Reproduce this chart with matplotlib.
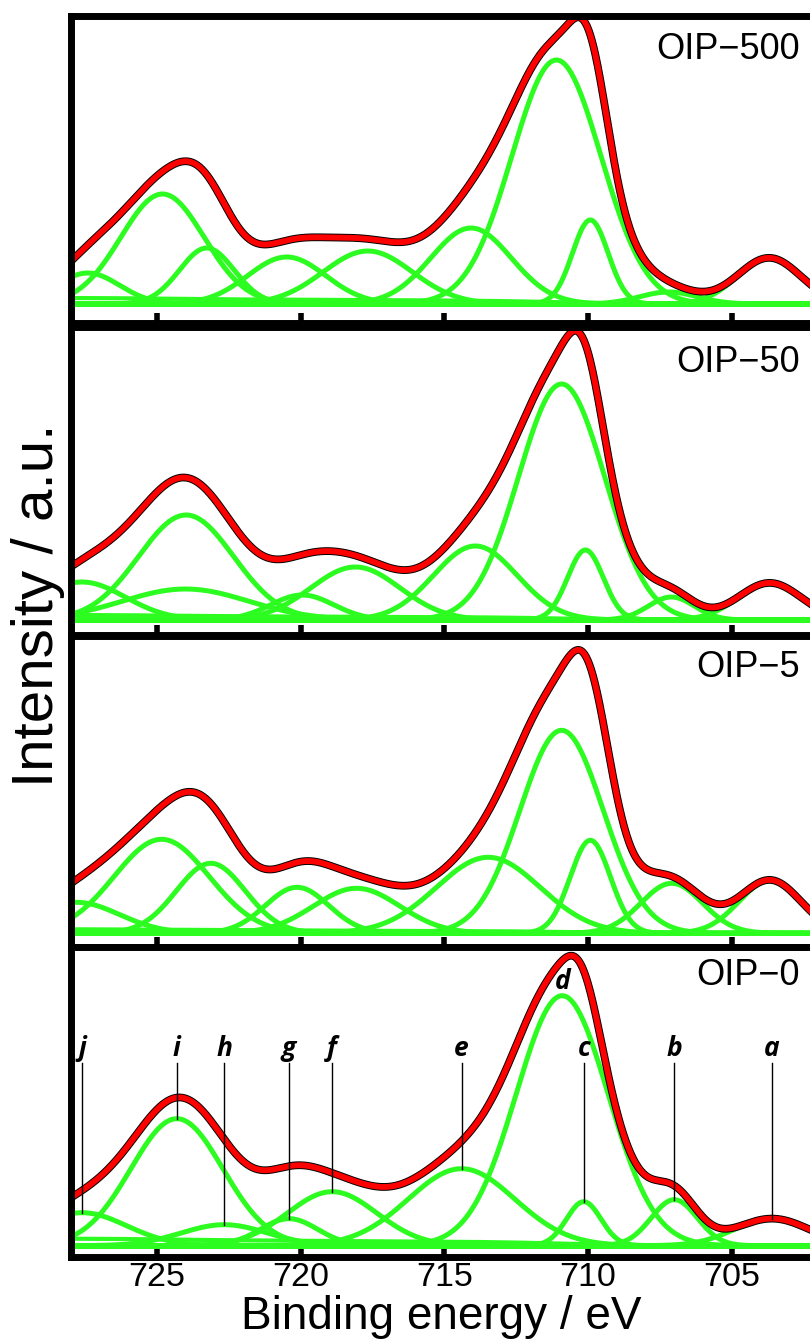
import numpy as np
import matplotlib
matplotlib.use("Agg")
import matplotlib.pyplot as plt
from matplotlib.transforms import Affine2D

# ---------------- data ----------------
panel_names = ["OIP\u2212500", "OIP\u221250", "OIP\u22125", "OIP\u22120"]
peak_letters = ["j", "i", "h", "g", "f", "e", "d", "c", "b", "a"]
tick_energies = [725, 720, 715, 710, 705]

# component centres (eV), heights (a.u.), gaussian widths sigma (eV), order j ... a
oip500_center = [727.4, 724.8, 723.26, 720.48, 717.66, 714.07, 711.1, 709.92, 707.2, 703.7]
oip500_height = [31, 110, 56, 47, 53, 76, 244, 84, 12, 46]
oip500_sigma = [1.1, 1.45, 0.95, 1.35, 1.55, 1.4, 1.55, 0.62, 1.0, 1.1]
oip500_bg = 6

oip50_center = [727.6, 723.98, 724.0, 719.94, 718.09, 713.92, 710.92, 710.09, 707.1, 703.68]
oip50_height = [38, 105, 31, 25, 53, 74, 236, 70, 23, 37]
oip50_sigma = [1.5, 1.65, 2.2, 1.1, 1.55, 1.45, 1.5, 0.62, 0.8, 1.1]
oip50_bg = 5

oip5_center = [727.8, 724.83, 723.12, 720.12, 718.05, 713.47, 710.92, 709.92, 707.09, 703.67]
oip5_height = [31, 94, 70, 46, 45, 76, 203, 93, 50, 53]
oip5_sigma = [1.5, 1.65, 1.2, 1.1, 1.5, 1.8, 1.45, 0.7, 1.07, 1.07]
oip5_bg = 4

oip0_center = [727.6, 724.3, 722.65, 720.4, 718.9, 714.4, 710.9, 710.15, 707.0, 703.6]
oip0_height = [33, 127, 21, 27, 54, 77, 250, 44, 46, 27]
oip0_sigma = [1.55, 1.6, 1.5, 1.0, 1.55, 1.85, 1.6, 0.6, 0.8, 1.3]
oip0_bg = 7

panels = [
    (oip500_center, oip500_height, oip500_sigma, oip500_bg),
    (oip50_center, oip50_height, oip50_sigma, oip50_bg),
    (oip5_center, oip5_height, oip5_sigma, oip5_bg),
    (oip0_center, oip0_height, oip0_sigma, oip0_bg),
]

# ---------------- layout (pixels) ----------------
W, H = 810, 1340
x_left_px = 70.5
e_left, e_right = 728.0, 702.28
panel_box_px = [(15.5, 323.0), (327.0, 635.5), (635.5, 947.0), (947.0, 1256.5)]
baseline_px = [304.0, 620.0, 933.3, 1245.7]
name_baseline_offset_px = [43.5, 44.7, 41.5, 38.0]

GREEN = "#2dfc21"
RED = "#ff0000"

plt.rcParams["font.family"] = ["Liberation Sans", "DejaVu Sans"]

fig = plt.figure(figsize=(W / 100, H / 100), dpi=100)
E = np.linspace(e_left, e_right, 900)
flip = Affine2D().scale(1, -1).translate(0, H)

axes = []
for k, ((cen, hei, sig, bg), (top, bot), base) in enumerate(zip(panels, panel_box_px, baseline_px)):
    ax = fig.add_axes([x_left_px / W, 1 - bot / H, 1 - x_left_px / W, (bot - top) / H])
    axes.append(ax)
    comps = [h * np.exp(-(E - c) ** 2 / (2 * s ** 2)) for c, h, s in zip(cen, hei, sig)]
    total = np.sum(comps, axis=0)
    cum = np.cumsum(total[::-1])[::-1]
    background = bg * cum / cum[0]
    fit = total + background

    ax.plot(E, np.zeros_like(E), color=GREEN, lw=3.6, solid_capstyle="butt")
    ax.plot(E, background, color=GREEN, lw=3.0)
    for comp in comps:
        ax.plot(E, comp, color=GREEN, lw=3.6)
    ax.plot(E, fit, color="black", lw=5.6)
    ax.plot(E, fit, color=RED, lw=4.2)

    ax.set_xlim(e_left, e_right)
    ax.set_ylim(-(bot - base), base - top)
    ax.set_yticks([])
    ax.set_xticks(tick_energies)
    ax.tick_params(axis="x", direction="in", length=7, width=4, color="black",
                   labelsize=24.5, pad=4, labelbottom=(k == 3))
    for side in ["left", "top", "bottom"]:
        ax.spines[side].set_linewidth(5)
        ax.spines[side].set_color("black")
    ax.spines["right"].set_visible(False)

    fig.text(800, top + name_baseline_offset_px[k], panel_names[k],
             transform=flip, fontsize=26, ha="right", va="baseline")

# peak labels on bottom panel
ax = axes[3]
label_y = 197.0
line_top = 183.0
label_font = dict(fontsize=19, family=["Open Sans", "DejaVu Sans"], weight="bold",
                  style="italic", ha="center", va="center")
for letter, c, h in zip(peak_letters, oip0_center, oip0_height):
    if letter == "d":
        ax.text(c, h + 14, letter, **label_font)
        continue
    ax.text(c, label_y, letter, **label_font)
    ax.plot([c, c], [line_top, h], color="black", lw=1.0)

fig.text(441 / W, 1 - 1329 / H, "Binding energy / eV", fontsize=33, ha="center", va="baseline")
fig.text(53 / W, 1 - 605 / H, "Intensity / a.u.", fontsize=42, rotation=90,
         rotation_mode="anchor", ha="center", va="baseline")

fig.savefig("out.png", dpi=100)
